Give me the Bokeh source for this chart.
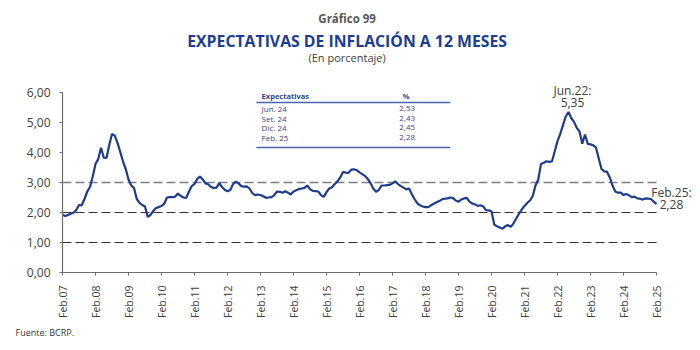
from math import pi
from bokeh.plotting import figure
from bokeh.models import Range1d, FixedTicker, Label, ColumnDataSource, Title
from bokeh.embed import file_html
from bokeh.resources import INLINE

# ---------------- data ----------------
# Monthly 12-month inflation expectations, Feb.07 ... Feb.25 (%)
expectativas = [
    # 2007 (Feb-Dec)
    1.93, 1.88, 1.92, 1.96, 1.99, 2.08, 2.25, 2.24, 2.45, 2.70, 2.85,
    # 2008
    3.20, 3.62, 3.78, 4.16, 3.83, 3.82, 4.25, 4.62, 4.56, 4.32, 4.02, 3.70,
    # 2009
    3.45, 3.10, 2.90, 2.82, 2.45, 2.32, 2.25, 2.20, 1.85, 1.92, 2.05, 2.15,
    # 2010
    2.18, 2.22, 2.29, 2.50, 2.51, 2.51, 2.53, 2.63, 2.55, 2.50, 2.49, 2.70,
    # 2011
    2.88, 2.95, 3.12, 3.20, 3.10, 2.97, 2.94, 2.85, 2.82, 2.83, 2.98, 2.85,
    # 2012
    2.76, 2.71, 2.75, 2.94, 3.03, 2.97, 2.88, 2.86, 2.87, 2.80, 2.65, 2.58,
    # 2013
    2.60, 2.58, 2.54, 2.49, 2.50, 2.51, 2.58, 2.70, 2.69, 2.66, 2.71, 2.66,
    # 2014
    2.60, 2.70, 2.74, 2.78, 2.80, 2.82, 2.90, 2.78, 2.72, 2.71, 2.70, 2.58,
    # 2015
    2.52, 2.68, 2.80, 2.84, 2.95, 3.04, 3.17, 3.35, 3.33, 3.32, 3.43, 3.44,
    # 2016
    3.41, 3.34, 3.28, 3.22, 3.12, 2.98, 2.80, 2.69, 2.75, 2.90, 2.90, 2.91,
    # 2017
    2.92, 2.97, 3.04, 2.95, 2.88, 2.83, 2.77, 2.80, 2.62, 2.45, 2.31, 2.24,
    # 2018
    2.20, 2.18, 2.18, 2.24, 2.29, 2.34, 2.38, 2.44, 2.46, 2.47, 2.50, 2.48,
    # 2019
    2.40, 2.36, 2.43, 2.47, 2.49, 2.36, 2.30, 2.27, 2.22, 2.24, 2.20, 2.08,
    # 2020
    2.07, 2.04, 1.60, 1.54, 1.50, 1.46, 1.54, 1.58, 1.52, 1.64, 1.80, 1.96,
    # 2021
    2.10, 2.22, 2.32, 2.40, 2.55, 2.90, 3.10, 3.62, 3.66, 3.71, 3.69, 3.71,
    # 2022
    4.04, 4.38, 4.62, 4.91, 5.20, 5.35, 5.15, 5.02, 4.82, 4.70, 4.29, 4.60,
    # 2023
    4.29, 4.27, 4.24, 4.16, 3.80, 3.45, 3.37, 3.36, 3.17, 2.90, 2.70, 2.66,
    # 2024
    2.66, 2.58, 2.62, 2.57, 2.51, 2.53, 2.47, 2.46, 2.43, 2.47, 2.46, 2.45,
    # 2025 (Jan-Feb)
    2.36, 2.28,
]
meses = list(range(len(expectativas)))

x_tick_labels = ["Feb.07", "Feb.08", "Feb.09", "Feb.10", "Feb.11", "Feb.12", "Feb.13",
                 "Feb.14", "Feb.15", "Feb.16", "Feb.17", "Feb.18", "Feb.19", "Feb.20",
                 "Feb.21", "Feb.22", "Feb.23", "Feb.24", "Feb.25"]
y_tick_values = [0, 1, 2, 3, 4, 5, 6]
y_tick_labels = ["0,00", "1,00", "2,00", "3,00", "4,00", "5,00", "6,00"]
lineas_ref = [1, 2, 3]

tabla_encabezado = ["Expectativas", "%"]
tabla_periodos = ["Jun. 24", "Set. 24", "Dic. 24", "Feb. 25"]
tabla_valores = ["2,53", "2,43", "2,45", "2,28"]

pico_etiqueta = "Jun.22:"
ultimo_etiqueta = "Feb.25:"

titulo_sup = "Gráfico 99"
titulo = "EXPECTATIVAS DE INFLACIÓN A 12 MESES"
subtitulo = "(En porcentaje)"
fuente = "Fuente: BCRP."

# ---------------- styles ----------------
FONT = "Open Sans"
AZUL = "#1d3c8f"
TXT = "#404040"
TABLA_TXT = "#34468a"
TABLA_LINEA = "#4a64b0"

x_ticks = [12 * i for i in range(len(x_tick_labels))]
x_fin = x_ticks[-1]
y_max = y_tick_values[-1]

# frame spans from the y axis to the right edge and from the x axis to the top edge
# (2.75 px per month, 30 px per percentage point)
p = figure(width=700, height=350, output_backend="svg", toolbar_location=None,
           x_range=Range1d(0, 232.0), y_range=Range1d(0, 9.0667),
           min_border_left=62, min_border_right=0, min_border_top=0, min_border_bottom=78,
           background_fill_color="white", border_fill_color="white")
p.outline_line_color = None
p.xgrid.visible = False
p.ygrid.visible = False

# axes
p.yaxis.ticker = FixedTicker(ticks=y_tick_values)
p.yaxis.major_label_overrides = {v: l for v, l in zip(y_tick_values, y_tick_labels)}
p.yaxis.bounds = (0, y_max)
p.xaxis.ticker = FixedTicker(ticks=x_ticks)
p.xaxis.major_label_overrides = {v: l for v, l in zip(x_ticks, x_tick_labels)}
p.xaxis.major_label_orientation = pi / 2
p.xaxis.bounds = (0, x_fin)
for ax in (p.xaxis, p.yaxis):
    ax.axis_line_color = "#6d6d6d"
    ax.axis_line_width = 1.2
    ax.major_tick_line_color = "#6d6d6d"
    ax.major_tick_out = 3
    ax.major_tick_in = 0
    ax.minor_tick_line_color = None
    ax.major_label_text_font = FONT
    ax.major_label_text_color = TXT
p.yaxis.major_label_text_font_size = "12px"
p.yaxis.major_label_standoff = 9
p.xaxis.major_label_standoff = 10
p.xaxis.major_label_text_font_size = "10.5px"

# dashed reference lines (drawn from first to last month)
for v in lineas_ref:
    if v == 3:
        p.segment(x0=0, x1=x_fin, y0=v, y1=v, line_color="#7f7f7f",
                  line_width=1.6, line_dash="9 4")
    else:
        p.segment(x0=0, x1=x_fin, y0=v, y1=v, line_color="#333333",
                  line_width=1.1, line_dash="9 4")

# series
src = ColumnDataSource(dict(x=meses, y=expectativas))
p.line("x", "y", source=src, line_color=AZUL, line_width=2.2)

# annotations
i_pico = expectativas.index(max(expectativas))
v_pico = expectativas[i_pico]
i_ult = len(expectativas) - 1
v_ult = expectativas[i_ult]

def fmt(v):
    return f"{v:.2f}".replace(".", ",")

def lab(x, y, text, xo=0, yo=0, size="12px", color=TXT, align="center", style="normal",
        baseline="middle"):
    p.add_layout(Label(x=x, y=y, x_offset=xo, y_offset=yo, text=text, text_font=FONT,
                       text_font_size=size, text_color=color, text_align=align,
                       text_baseline=baseline, text_font_style=style))

lab(i_pico, v_pico, pico_etiqueta, xo=4, yo=22)
lab(i_pico, v_pico, fmt(v_pico), xo=4, yo=10)
lab(i_ult, v_ult, ultimo_etiqueta, xo=15, yo=12)
lab(i_ult, v_ult, fmt(v_ult), xo=15, yo=0)

# titles (in the empty space above the plotted area)
lab(103.5, 8.47, titulo_sup, size="11.5px", color="#58595b", style="bold")
lab(103.5, 7.73, titulo, size="15.8px", color="#1c3d94", style="bold")
lab(103.5, 7.17, subtitulo, size="11px", color=TXT)

# source note below the axis
p.add_layout(Title(text=fuente, align="left", offset=-47, text_font=FONT,
                   text_font_size="9px", text_color="#333333", text_font_style="normal",
                   standoff=4), "below")

# inset table
tx0, tx1 = 70.5, 141
lab(72.4, 5.9, tabla_encabezado[0], size="7.5px", color=TABLA_TXT, align="left", style="bold")
lab(125, 5.9, tabla_encabezado[1], size="7.5px", color=TABLA_TXT, align="center", style="bold")
p.segment(x0=[tx0, tx0], x1=[tx1, tx1], y0=[5.667, 4.167], y1=[5.667, 4.167],
          line_color=TABLA_LINEA, line_width=1.5)
filas_y = [5.467, 5.143, 4.82, 4.5]
for per, val, fy in zip(tabla_periodos, tabla_valores, filas_y):
    lab(72.4, fy, per, size="8px", color=TABLA_TXT, align="left")
    lab(128.2, fy, val, size="8px", color=TABLA_TXT, align="right")

open("out.html", "w").write(file_html(p, INLINE))
